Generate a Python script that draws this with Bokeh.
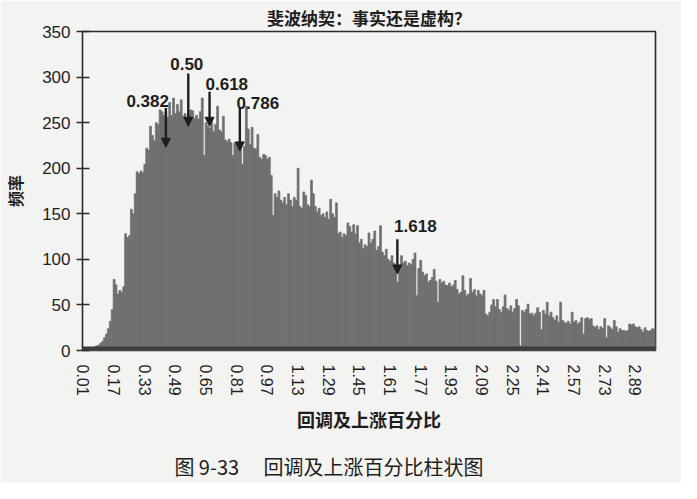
from bokeh.plotting import figure
from bokeh.models import (ColumnDataSource, FixedTicker, Range1d, LinearAxis, Arrow,
                          NormalHead, BoxAnnotation, LabelSet, CustomJSTickFormatter)
from bokeh.core.properties import value
from bokeh.embed import file_html
from bokeh.resources import INLINE

# ---------------- data ----------------
bin_start = 0.01
bin_step = 0.01
freq = [
    2, 1, 2, 2, 3, 3, 4, 5, 6, 8,                                  # 0.01-0.10
    10, 14, 18, 24, 32, 45, 78, 72, 62, 66,                        # 0.11-0.20
    64, 70, 128, 124, 126, 155, 150, 172, 196, 194,                # 0.21-0.30
    197, 195, 204, 222, 220, 246, 236, 230, 250, 248,              # 0.31-0.40
    264, 262, 258, 262, 256, 272, 258, 277, 260, 270,              # 0.41-0.50
    262, 275, 257, 260, 252, 258, 264, 263, 255, 258,              # 0.51-0.60
    254, 262, 277, 214, 250, 246, 244, 250, 240, 248,              # 0.61-0.70
    268, 242, 240, 257, 231, 229, 232, 228, 214, 228,              # 0.71-0.80
    226, 224, 222, 204, 224, 268, 243, 226, 245, 222,              # 0.81-0.90
    221, 237, 212, 210, 215, 214, 210, 212, 192, 148,              # 0.91-1.00
    172, 168, 175, 165, 162, 168, 160, 172, 165, 158,              # 1.01-1.10
    168, 165, 200, 158, 156, 174, 170, 160, 158, 187,              # 1.11-1.20
    172, 158, 152, 156, 148, 150, 146, 152, 144, 166,              # 1.21-1.30
    150, 146, 162, 128, 130, 124, 128, 126, 140, 136,              # 1.31-1.40
    130, 138, 128, 137, 118, 122, 112, 116, 114, 129,              # 1.41-1.50
    118, 122, 131, 110, 114, 137, 108, 104, 111, 100,              # 1.51-1.60
    98, 104, 96, 93, 75, 88, 104, 96, 98, 93,                      # 1.61-1.70
    96, 94, 100, 107, 60, 90, 99, 86, 82, 84,                      # 1.71-1.80
    75, 77, 80, 89, 76, 53, 78, 74, 76, 72,                        # 1.81-1.90
    71, 74, 70, 72, 77, 67, 62, 64, 82, 66,                        # 1.91-2.00
    60, 62, 79, 64, 67, 60, 66, 62, 60, 66,                        # 2.01-2.10
    40, 38, 42, 50, 56, 48, 56, 45, 42, 48,                        # 2.11-2.20
    61, 46, 44, 49, 42, 46, 56, 49, 5, 44,                         # 2.21-2.30
    42, 45, 51, 40, 41, 38, 41, 47, 42, 23,                        # 2.31-2.40
    44, 40, 53, 38, 42, 36, 33, 38, 31, 53,                        # 2.41-2.50
    33, 31, 30, 32, 29, 42, 31, 33, 29, 31,                        # 2.51-2.60
    36, 18, 35, 36, 34, 35, 27, 25, 27, 23,                        # 2.61-2.70
    26, 24, 35, 14, 27, 25, 23, 33, 26, 20,                        # 2.71-2.80
    24, 22, 22, 21, 22, 29, 28, 29, 26, 25,                        # 2.81-2.90
    26, 23, 20, 25, 22, 21, 22, 24, 23,                            # 2.91-2.99
]
bins = [round(bin_start + i * bin_step, 2) for i in range(len(freq))]

x_tick_values = [0.01, 0.17, 0.33, 0.49, 0.65, 0.81, 0.97, 1.13, 1.29, 1.45,
                 1.61, 1.77, 1.93, 2.09, 2.25, 2.41, 2.57, 2.73, 2.89]
y_tick_values = [0, 50, 100, 150, 200, 250, 300, 350]

fib_labels = ["0.382", "0.50", "0.618", "0.786", "1.618"]
fib_label_x = [0.345, 0.549, 0.758, 0.920, 1.742]
fib_label_y = [274, 314, 292, 272, 137]
arrow_x = [0.440, 0.557, 0.668, 0.826, 1.648]
arrow_y_from = [266, 304, 284, 266, 122]
arrow_y_to = [223, 246, 246, 219, 84]

title_text = "斐波纳契：事实还是虚构？"
x_label = "回调及上涨百分比"
y_label = "频率"
caption = "图 9-33\u3000 回调及上涨百分比柱状图"

# ---------------- figure ----------------
PAPER = "#f3f3f1"
INK = "#1e1e1e"
BAR = "#6f6f6f"
NUM_FONT = "Liberation Sans"
CJK_FONT = "Noto Sans CJK SC"

p = figure(width=681, height=483, output_backend="svg", toolbar_location=None,
           x_range=Range1d(0.005, 2.995), y_range=Range1d(0, 350),
           min_border_left=77, min_border_right=26, min_border_top=31,
           min_border_bottom=133)
p.background_fill_color = PAPER
p.border_fill_color = PAPER
p.outline_line_color = "#2a2a2a"
p.outline_line_width = 1.6
p.xgrid.visible = False
p.ygrid.visible = False

p.title.text = title_text
p.title.align = "center"
p.title.text_font = CJK_FONT
p.title.text_font_size = "17px"
p.title.text_font_style = "bold"
p.title.text_color = INK
p.title.standoff = 4

src = ColumnDataSource(dict(x=bins, top=freq))
p.vbar(x="x", top="top", width=bin_step, source=src, fill_color=BAR,
       line_color=BAR, line_width=0.7)

p.add_layout(BoxAnnotation(bottom=0, top=4.5, fill_color="#3d3d3d", fill_alpha=1.0,
                           line_color=None))

# axes
xa = p.xaxis[0]
xa.ticker = FixedTicker(ticks=x_tick_values)
xa.formatter = CustomJSTickFormatter(code="return tick.toFixed(2);")
xa.major_label_orientation = "vertical"
xa.major_tick_line_color = None
xa.minor_tick_line_color = None
xa.major_tick_out = 0
xa.major_tick_in = 0
xa.minor_tick_out = 0
xa.axis_line_color = None
xa.major_label_standoff = 14
xa.major_label_text_font = NUM_FONT
xa.major_label_text_font_size = "16px"
xa.major_label_text_color = INK
xa.axis_label = x_label
xa.axis_label_text_font = CJK_FONT
xa.axis_label_text_font_size = "18px"
xa.axis_label_text_font_style = "bold"
xa.axis_label_text_color = INK
xa.axis_label_standoff = 7

ya = p.yaxis[0]
ya.ticker = FixedTicker(ticks=y_tick_values)
ya.minor_tick_line_color = None
ya.axis_line_color = None
ya.major_tick_in = 7
ya.major_tick_out = 6
ya.major_tick_line_color = "#2a2a2a"
ya.major_tick_line_width = 1.3
ya.major_label_standoff = 6
ya.major_label_text_font = NUM_FONT
ya.major_label_text_font_size = "17px"
ya.major_label_text_color = INK
ya.axis_label = y_label
ya.axis_label_text_font = CJK_FONT
ya.axis_label_text_font_size = "16px"
ya.axis_label_text_font_style = "bold"
ya.axis_label_text_color = INK
ya.axis_label_standoff = 12

# caption: an extra tick-less axis below the x axis carries the figure caption
cap_axis = LinearAxis(ticker=FixedTicker(ticks=[]), axis_line_color=None,
                      major_tick_in=0, major_tick_out=0, minor_tick_in=0,
                      minor_tick_out=0, major_label_standoff=0,
                      major_label_text_font_size="0px",
                      axis_label=caption + "\u3000\u3000\u3000\u3000",
                      axis_label_standoff=17, axis_label_text_font=CJK_FONT,
                      axis_label_text_font_size="20px",
                      axis_label_text_font_style="normal",
                      axis_label_text_color=INK)
p.add_layout(cap_axis, "below")

# fibonacci annotations
for xa_, y0, y1 in zip(arrow_x, arrow_y_from, arrow_y_to):
    p.add_layout(Arrow(end=NormalHead(size=9, fill_color=INK, line_color=INK),
                       x_start=xa_, y_start=y0, x_end=xa_, y_end=y1,
                       line_color=INK, line_width=2.4))

lab_src = ColumnDataSource(dict(x=fib_label_x, y=fib_label_y, t=fib_labels))
p.add_layout(LabelSet(x="x", y="y", text="t", source=lab_src,
                      text_align="center", text_baseline="middle",
                      text_font=value(NUM_FONT), text_font_size=value("17px"),
                      text_font_style="bold", text_color=INK))

open("out.html", "w").write(file_html(p, INLINE))
